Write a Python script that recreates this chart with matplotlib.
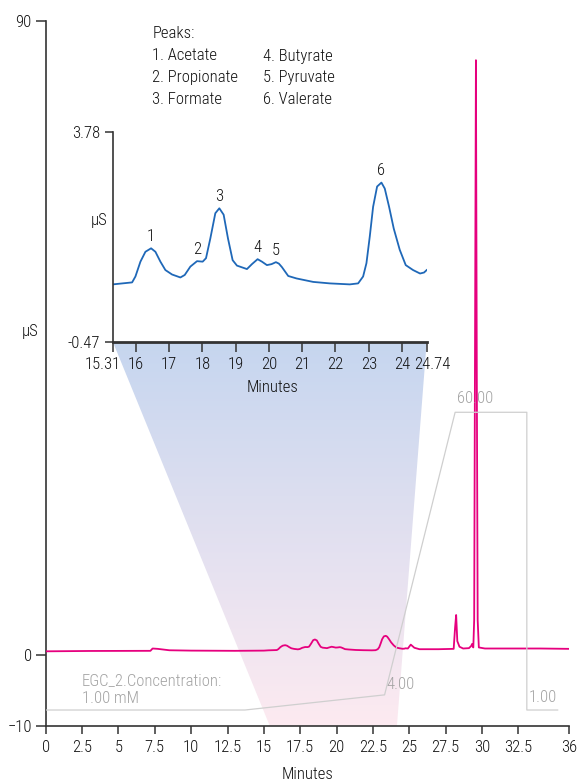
import matplotlib
matplotlib.use("Agg")
import matplotlib.pyplot as plt
import matplotlib.transforms as mtransforms
import numpy as np
from matplotlib.patches import Polygon

plt.rcParams["font.family"] = ["Roboto Condensed", "Liberation Sans Narrow", "Liberation Sans", "DejaVu Sans"]
plt.rcParams["font.size"] = 12
plt.rcParams["font.weight"] = "light"
plt.rcParams["axes.labelweight"] = "light"

# main trace (minutes, uS) outside the zoomed window
main_before_t = [0.0, 3.0, 7.2, 7.35, 7.7, 8.5, 10.0, 13.0, 15.0]
main_before_y = [0.55, 0.6, 0.62, 0.95, 0.9, 0.7, 0.65, 0.62, 0.65]
main_after_t = [24.9, 25.1, 25.35, 25.7, 27.0, 28.05, 28.15, 28.22, 28.3, 28.45, 28.7, 29.1,
                29.25, 29.32, 29.4, 29.46, 29.52, 29.58, 29.64, 29.7, 29.78, 30.2, 32.0,
                32.5, 34.0, 36.0]
main_after_y = [0.95, 1.5, 1.05, 0.85, 0.85, 0.9, 4.0, 5.7, 2.0, 1.2, 0.95, 1.0,
                1.3, 1.6, 1.1, 5.0, 45.0, 84.4, 40.0, 5.0, 1.1, 0.95, 0.95,
                0.95, 0.95, 0.9]

# zoomed window trace
zoom_t = [15.31, 15.89, 15.99, 16.14, 16.29, 16.46, 16.59, 16.74, 16.89, 17.09, 17.34, 17.47,
          17.64, 17.84, 18.01, 18.11, 18.24, 18.39, 18.51, 18.64, 18.77, 18.91, 19.04,
          19.34, 19.49, 19.66, 19.79, 19.94, 20.08, 20.21, 20.30, 20.39, 20.58, 20.83,
          21.33, 21.83, 22.43, 22.68, 22.83, 22.93, 23.03, 23.13, 23.25, 23.38, 23.48,
          23.61, 23.75, 23.93, 24.11, 24.33, 24.54, 24.66, 24.74]
zoom_y = [0.69, 0.73, 0.85, 1.15, 1.35, 1.42, 1.35, 1.15, 0.98, 0.89, 0.83, 0.88,
          1.05, 1.16, 1.15, 1.22, 1.62, 2.13, 2.23, 2.10, 1.62, 1.18, 1.07,
          1.00, 1.10, 1.20, 1.15, 1.08, 1.10, 1.14, 1.11, 1.04, 0.86, 0.81,
          0.74, 0.71, 0.69, 0.71, 0.85, 1.12, 1.66, 2.26, 2.67, 2.75, 2.63,
          2.26, 1.82, 1.39, 1.08, 0.98, 0.91, 0.93, 0.98]

peak_t = [16.46, 17.84, 18.51, 19.66, 20.21, 23.38]
peak_y = [1.42, 1.16, 2.23, 1.20, 1.14, 2.75]
peak_names = ["Acetate", "Propionate", "Formate", "Butyrate", "Pyruvate", "Valerate"]

# eluent concentration program (minutes, mM)
conc_t = [0.0, 13.7, 23.3, 28.15, 33.08, 33.08, 35.2]
conc_mM = [1.0, 1.0, 4.0, 60.0, 60.0, 1.0, 1.0]

main_xticks = [0, 2.5, 5, 7.5, 10, 12.5, 15, 17.5, 20, 22.5, 25, 27.5, 30, 32.5, 36]
main_yticks = [-10, 0, 90]
zoom_xticks = [15.31, 16, 17, 18, 19, 20, 21, 22, 23, 24, 24.74]
zoom_yticks = [-0.47, 3.78]
shade_bottom = [15.4, 24.15]

MAGENTA = "#e6007e"
BLUE = "#1f68b8"
GREY_LINE = "#cfcfcf"
GREY_TXT = "#a3a3a3"
AXC = "#333333"
TXT = "#111111"

W, H = 579, 783
fig = plt.figure(figsize=(W / 100, H / 100), dpi=100)
ax = fig.add_axes([45.7 / W, 1 - 725.7 / H, 523.6 / W, 705 / H])
axi = fig.add_axes([112.8 / W, 1 - 341.7 / H, 313.9 / W, 210 / H])
ax2 = ax.twinx()


def style(a, lw_left, lw_bottom):
    for s in ["top", "right"]:
        a.spines[s].set_visible(False)
    a.spines["left"].set_linewidth(lw_left)
    a.spines["bottom"].set_linewidth(lw_bottom)
    a.spines["left"].set_color(AXC)
    a.spines["bottom"].set_color(AXC)
    a.tick_params(colors=AXC, labelcolor=TXT, width=1.1, labelsize=12)


# main chromatogram
t_all = main_before_t + zoom_t + main_after_t
y_all = main_before_y + zoom_y + main_after_y
ax.plot(t_all, y_all, color=MAGENTA, lw=1.3, zorder=4)
ax.set_xlim(0, 36)
ax.set_ylim(-10, 90)
ax.set_xticks(main_xticks)
ax.set_xticklabels([f"{v:g}" for v in main_xticks])
ax.set_yticks(main_yticks)
style(ax, 1.2, 1.2)
ax.tick_params(axis="x", length=6, pad=4)
ax.tick_params(axis="y", length=7, pad=3)
ax.set_xlabel("Minutes", fontsize=12, color=TXT)
ax.xaxis.set_label_coords(0.5, -0.058)
ax.set_ylabel("µS", rotation=0, fontsize=12, va="center", ha="center", color=TXT)
ax.yaxis.set_label_coords(-0.03, 0.559)

# concentration program on hidden axis
ax2.plot(conc_t, conc_mM, color=GREY_LINE, lw=0.9, zorder=2)
ax2.set_ylim(-2.11, 137.6)
ax2.axis("off")
ax2.text(conc_t[2] + 0.15, conc_mM[2] + 0.6, "4.00", color=GREY_TXT, fontsize=12, va="bottom")
ax2.text(conc_t[3] + 0.1, conc_mM[3] + 1.2, "60.00", color=GREY_TXT, fontsize=12, va="bottom")
ax2.text(conc_t[5] + 0.15, conc_mM[5] + 0.9, "1.00", color=GREY_TXT, fontsize=12, va="bottom")
fig.text(82 / W, 1 - 673 / H, "EGC_2.Concentration:\n1.00 mM", color=GREY_TXT,
         fontsize=12, va="top", ha="left", linespacing=1.25)

# inset
axi.plot(zoom_t, zoom_y, color=BLUE, lw=1.3)
axi.set_xlim(zoom_t[0], zoom_t[-1])
axi.set_ylim(zoom_yticks[0], zoom_yticks[1])
axi.set_xticks(zoom_xticks)
axi.set_xticklabels([f"{v:g}" for v in zoom_xticks])
axi.set_yticks(zoom_yticks)
axi.set_yticklabels(["-0.47", "3.78"])
axi.patch.set_visible(False)
style(axi, 1.2, 2.0)
axi.tick_params(axis="x", length=7, pad=4)
axi.tick_params(axis="y", length=6, pad=3)
labs = axi.get_xticklabels()
labs[0].set_transform(labs[0].get_transform() + mtransforms.ScaledTranslation(-10 / 100, 0, fig.dpi_scale_trans))
labs[-1].set_transform(labs[-1].get_transform() + mtransforms.ScaledTranslation(6 / 100, 0, fig.dpi_scale_trans))
axi.set_xlabel("Minutes", fontsize=12, color=TXT)
axi.xaxis.set_label_coords(0.51, -0.18)
axi.set_ylabel("µS", rotation=0, fontsize=12, va="center", ha="center", color=TXT)
axi.yaxis.set_label_coords(-0.044, 0.575)
for i, (pt, py) in enumerate(zip(peak_t, peak_y)):
    axi.annotate(str(i + 1), (pt, py), xytext=(0, 3), textcoords="offset points",
                 ha="center", va="bottom", fontsize=12, color=TXT)

# peak legend
fig.text(152.5 / W, 1 - 34 / H, "Peaks:", fontsize=12, va="center", color=TXT)
rows = [56, 77.3, 99.3]
for i, name in enumerate(peak_names):
    col_x = 152.5 if i < 3 else 263.3
    fig.text(col_x / W, 1 - rows[i % 3] / H, f"{i + 1}. {name}", fontsize=12,
             va="center", color=TXT)

# gradient wedge linking the inset to the main trace
fig.canvas.draw()
corners = ax.transData.inverted().transform(axi.transAxes.transform([(0, 0), (1, 0)]))
poly = np.array([corners[0], corners[1], (shade_bottom[1], -10), (shade_bottom[0], -10)])
patch = Polygon(poly, closed=True, facecolor="none", edgecolor="none")
ax.add_patch(patch)
top_c = np.array([0.776, 0.839, 0.937])
bot_c = np.array([0.992, 0.918, 0.945])
frac = np.linspace(0, 1, 256)[:, None, None]
grad = top_c * (1 - frac) + bot_c * frac
im = ax.imshow(grad, extent=[poly[:, 0].min(), poly[:, 0].max(), -10, corners[0][1]],
               origin="upper", aspect="auto", zorder=1, clip_path=patch, clip_on=True)
ax.set_xlim(0, 36)
ax.set_ylim(-10, 90)

fig.savefig("out.png", dpi=100)
